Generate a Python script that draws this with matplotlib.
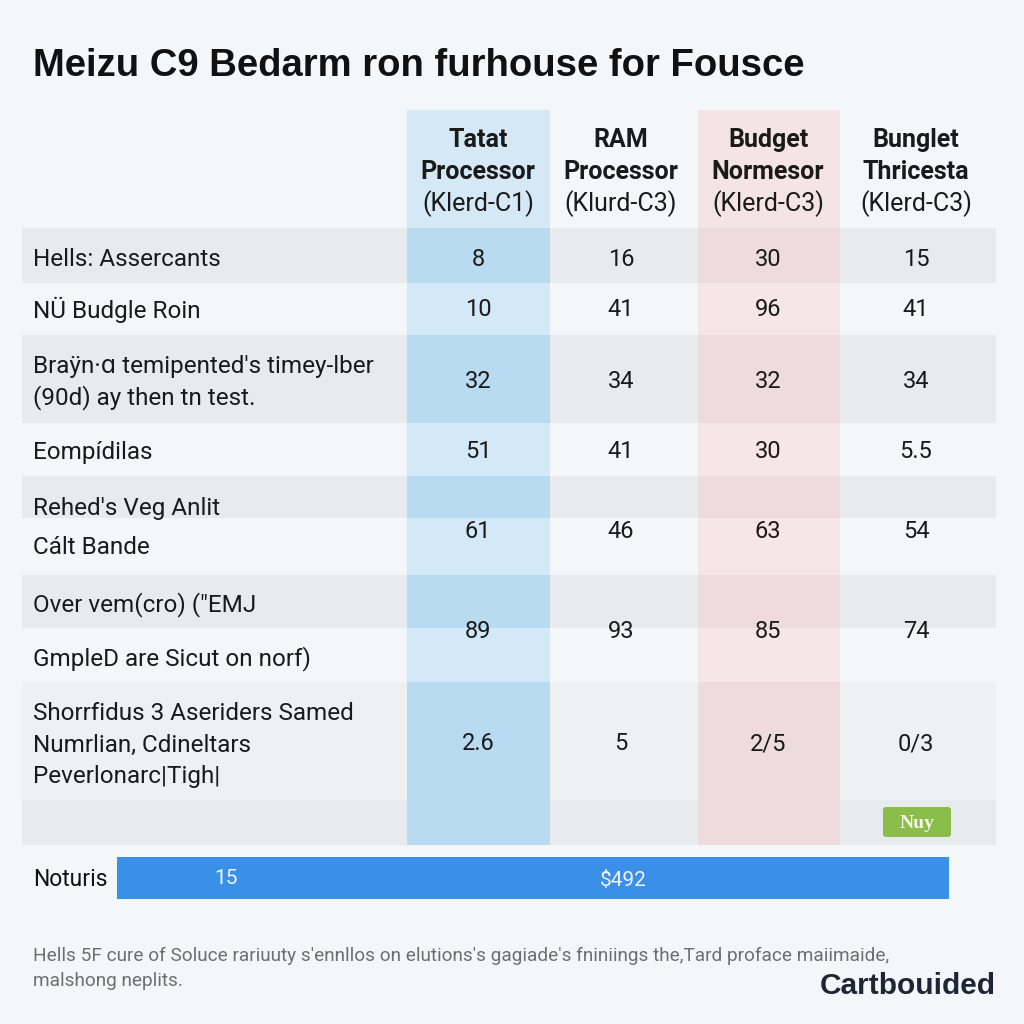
import matplotlib.pyplot as plt
from matplotlib.patches import Rectangle, FancyBboxPatch

# table content
title = 'Meizu C9 Bedarm ron furhouse for Fousce'
col_headers = [
    ['Tatat', 'Processor', '(Klerd-C1)'],
    ['RAM', 'Processor', '(Klurd-C3)'],
    ['Budget', 'Normesor', '(Klerd-C3)'],
    ['Bunglet', 'Thricesta', '(Klerd-C3)'],
]
row_labels = [
    ['Hells: Assercants'],
    ['NÜ Budgle Roin'],
    ["Braÿn·ɑ temipented's timey-lber", '(90d) ay then tn test.'],
    ['Eompídilas'],
    ["Rehed's Veg Anlit", 'Cált Bande'],
    ['Over vem(cro) ("EMJ', 'GmpleD are Sicut on norf)'],
    ['Shorrfidus 3 Aseriders Samed', 'Numrlian, Cdineltars', 'Peverlonarc|Tigh|'],
]
col1_values = ['8', '10', '32', '51', '61', '89', '2.6']
col2_values = ['16', '41', '34', '41', '46', '93', '5']
col3_values = ['30', '96', '32', '30', '63', '85', '2/5']
col4_values = ['15', '41', '34', '5.5', '54', '74', '0/3']
button_label = 'Nuy'
bar_label = 'Noturis'
bar_texts = ['15', '$492']
footnote = ["Hells 5F cure of Soluce rariuuty s'ennllos on elutions's gagiade's fniniings the,Tard proface maiimaide,",
            'malshong neplits.']
brand = 'Cartbouided'

# layout (pixels, top-left origin)
# each band: (top, bottom, shaded)
bands = [(228, 283, True), (283, 335, False), (335, 423, True), (423, 476, False),
         (476, 518, True), (518, 575, False), (575, 628, True), (628, 682, False),
         (682, 800, True), (800, 845, True)]
col_x = [478, 621, 768, 916]
label_y_lines = [[259], [310], [367, 398], [452], [509, 547], [605, 659], [714, 745, 776]]
value_y = [259, 310, 382, 452, 531, 631, 744]

bg = '#f4f7fa'
gray = '#e8ebed'
blue_hi, blue_lo = '#b9dbf2', '#d3e9f8'
pink_hi, pink_lo = '#eedcdc', '#f6e6e6'

fig = plt.figure(figsize=(10.24, 10.24), dpi=100, facecolor=bg)
ax = fig.add_axes([0, 0, 1, 1])
ax.set_xlim(0, 1024)
ax.set_ylim(1024, 0)
ax.axis('off')

body = ['Roboto', 'DejaVu Sans']
head = ['Liberation Sans', 'DejaVu Sans']

ax.text(33, 66, title, fontsize=27.5, fontweight='bold', family=head,
        color='#111111', va='center', ha='left')

# header cells of highlighted columns
ax.add_patch(Rectangle((407, 110), 143, 118, color='#d4e8f6', lw=0))
ax.add_patch(Rectangle((698, 110), 142, 118, color='#f5e4e4', lw=0))

# row stripes + highlighted column cells
for i, (y0, y1, shaded) in enumerate(bands):
    if shaded:
        c = '#eef0f2' if i == 8 else gray
        ax.add_patch(Rectangle((22, y0), 974, y1 - y0, color=c, lw=0))
    ax.add_patch(Rectangle((407, y0), 143, y1 - y0, color=blue_hi if shaded else blue_lo, lw=0))
    ax.add_patch(Rectangle((698, y0), 142, y1 - y0, color=pink_hi if shaded else pink_lo, lw=0))

# headers
for x, lines in zip(col_x, col_headers):
    for j, line in enumerate(lines):
        ax.text(x, 140 + j * 32, line, fontsize=18, family=body,
                fontweight='bold' if j < 2 else 'normal',
                color='#1a1a1a', ha='center', va='center')

# row labels and values
for i, lines in enumerate(row_labels):
    for line, y in zip(lines, label_y_lines[i]):
        ax.text(33, y, line, fontsize=17.5, family=body, color='#1a1a1a',
                ha='left', va='center')
    for x, vals in zip(col_x, [col1_values, col2_values, col3_values, col4_values]):
        ax.text(x, value_y[i], vals[i], fontsize=17, family=body,
                color='#1a1a1a', ha='center', va='center')

# buy button
ax.add_patch(FancyBboxPatch((884, 808), 66, 28, boxstyle='round,pad=1,rounding_size=3',
                            color='#8bbd4b', lw=0))
ax.text(917, 823, button_label, fontsize=14, fontweight='bold',
        family=['Liberation Serif', 'DejaVu Serif'],
        color='#f3f6e6', ha='center', va='center')

# bottom bar
ax.barh([878], [832], left=117, height=42, color='#3a8fe6')
ax.text(33, 879, bar_label, fontsize=16.5, family=body, color='#111111', ha='left', va='center')
ax.text(226, 878, bar_texts[0], fontsize=15, family=body, color='#eef5ff', ha='center', va='center')
ax.text(623, 880, bar_texts[1], fontsize=15, family=body, color='#eef5ff', ha='center', va='center')

# footnote and brand
for j, line in enumerate(footnote):
    ax.text(33, 956 + j * 25, line, fontsize=13.7, family=body, color='#6e6e6e',
            ha='left', va='center')
ax.text(996, 986, brand, fontsize=21.5, fontweight='bold', family=head,
        color='#1d2634', ha='right', va='center')

fig.savefig('out.png', dpi=100, facecolor=bg)
